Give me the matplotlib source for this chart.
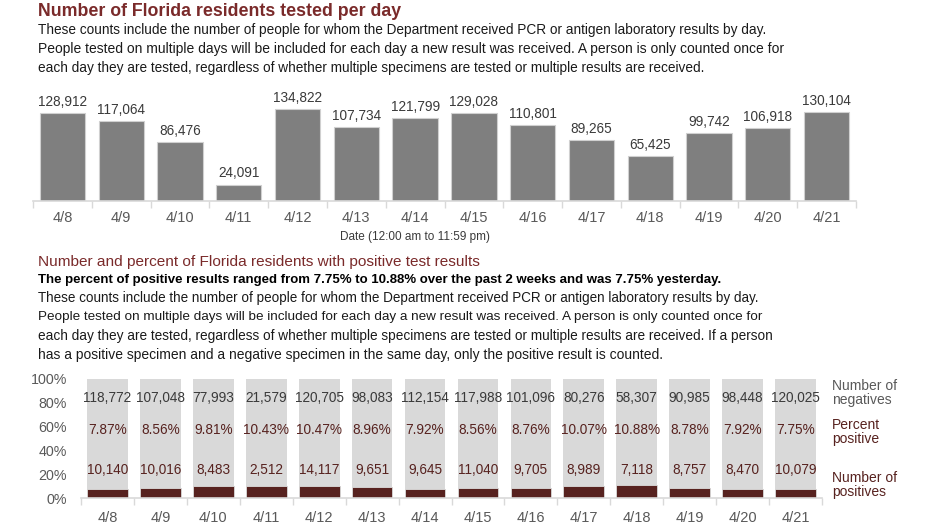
import matplotlib
matplotlib.use("Agg")
import matplotlib.pyplot as plt
import numpy as np

dates = ['4/8', '4/9', '4/10', '4/11', '4/12', '4/13', '4/14',
         '4/15', '4/16', '4/17', '4/18', '4/19', '4/20', '4/21']
tested = [128912, 117064, 86476, 24091, 134822, 107734, 121799,
          129028, 110801, 89265, 65425, 99742, 106918, 130104]
negatives = [118772, 107048, 77993, 21579, 120705, 98083, 112154,
             117988, 101096, 80276, 58307, 90985, 98448, 120025]
positives = [10140, 10016, 8483, 2512, 14117, 9651, 9645,
             11040, 9705, 8989, 7118, 8757, 8470, 10079]
pct_positive = [7.87, 8.56, 9.81, 10.43, 10.47, 8.96, 7.92,
                8.56, 8.76, 10.07, 10.88, 8.78, 7.92, 7.75]
pct_ticks = [0, 20, 40, 60, 80, 100]

title1 = "Number of Florida residents tested per day"
para1 = [
    "These counts include the number of people for whom the Department received PCR or antigen laboratory results by day.",
    "People tested on multiple days will be included for each day a new result was received. A person is only counted once for",
    "each day they are tested, regardless of whether multiple specimens are tested or multiple results are received.",
]
title2 = "Number and percent of Florida residents with positive test results"
bold2 = "The percent of positive results ranged from 7.75% to 10.88% over the past 2 weeks and was 7.75% yesterday."
para2 = [
    "These counts include the number of people for whom the Department received PCR or antigen laboratory results by day.",
    "People tested on multiple days will be included for each day a new result was received. A person is only counted once for",
    "each day they are tested, regardless of whether multiple specimens are tested or multiple results are received. If a person",
    "has a positive specimen and a negative specimen in the same day, only the positive result is counted.",
]

W, H = 932, 524
plt.rcParams['font.family'] = ['Liberation Sans', 'DejaVu Sans']
fig = plt.figure(figsize=(W / 100, H / 100), dpi=100)
fig.patch.set_facecolor('white')

DARKRED = '#7a2a2a'
BARRED = '#57221f'
TXT = '#3a3a3a'
GRAY_T = '#595959'

renderer = fig.canvas.get_renderer()


def fit_text(x_px, y_px, s, width_px, color, weight='normal'):
    t = fig.text(x_px / W, 1 - y_px / H, s, fontsize=10, color=color,
                 fontweight=weight, va='center', ha='left')
    w = t.get_window_extent(renderer).width
    t.set_fontsize(10 * width_px / w)
    return t


fit_text(38, 11, title1, 402 - 38, DARKRED, weight='bold')
for i, (line, wid) in enumerate(zip(para1, [768 - 38, 785 - 38, 707 - 38])):
    fit_text(38, 30 + 19 * i, line, wid, '#1a1a1a')

fit_text(38, 262, title2, 483 - 38, DARKRED)
fit_text(38, 280, bold2, 727 - 38, '#000000', weight='bold')
for i, (line, wid) in enumerate(zip(para2, [763 - 38, 762 - 38, 773 - 38, 664 - 38])):
    fit_text(38, 298 + 19 * i, line, wid, '#1a1a1a')

# ---- Top chart ----
x = np.arange(len(dates))
ax1 = fig.add_axes([33 / W, 1 - 201 / H, (856 - 33) / W, 116 / H])
ax1.bar(x, tested, width=0.77, color='#7f7f7f', edgecolor='#d0d0d0', linewidth=0.8)
ax1.set_xlim(-0.5, len(dates) - 0.5)
ax1.set_ylim(0, 134822 * 116 / 92)
for xi, v in zip(x, tested):
    ax1.annotate(f"{v:,}", (xi, v), xytext=(0, 3), textcoords='offset points',
                 ha='center', va='bottom', fontsize=9.8, color=TXT)
for s in ['top', 'right', 'left']:
    ax1.spines[s].set_visible(False)
ax1.spines['bottom'].set_color('#d9d9d9')
ax1.spines['bottom'].set_linewidth(1.2)
ax1.set_yticks([])
ax1.set_xticks(x)
ax1.set_xticklabels(dates, fontsize=10.5, color=GRAY_T)
ax1.tick_params(axis='x', which='major', length=0, pad=7)
ax1.set_xticks(np.arange(-0.5, len(dates)), minor=True)
ax1.tick_params(axis='x', which='minor', length=5, color='#d9d9d9', width=1)
fig.text(415 / W, 1 - 237 / H, "Date (12:00 am to 11:59 pm)", ha='center', va='center',
         fontsize=8.5, color=TXT)

# ---- Bottom chart ----
ax2 = fig.add_axes([81 / W, 1 - 498 / H, (822 - 81) / W, 119 / H])
pos_frac = [p / 100 for p in pct_positive]
neg_frac = [1 - p for p in pos_frac]
ax2.bar(x, pos_frac, width=0.77, color=BARRED, edgecolor='#d9d9d9', linewidth=0.6)
ax2.bar(x, neg_frac, bottom=pos_frac, width=0.77, color='#d9d9d9', linewidth=0)
ax2.set_xlim(-0.5, len(dates) - 0.5)
ax2.set_ylim(0, 1)
for xi, n, p, c in zip(x, negatives, pct_positive, positives):
    ax2.text(xi, 0.84, f"{n:,}", ha='center', va='center', fontsize=9.8, color=TXT)
    ax2.text(xi, 0.57, f"{p:.2f}%", ha='center', va='center', fontsize=9.8, color=BARRED)
    ax2.text(xi, 0.235, f"{c:,}", ha='center', va='center', fontsize=9.8, color=BARRED)
for s in ['top', 'right', 'left']:
    ax2.spines[s].set_visible(False)
ax2.spines['bottom'].set_color('#d9d9d9')
ax2.spines['bottom'].set_linewidth(1.2)
ax2.set_yticks([t / 100 for t in pct_ticks])
ax2.set_yticklabels([f"{t}%" for t in pct_ticks], fontsize=10.3, color=GRAY_T)
ax2.tick_params(axis='y', length=0, pad=10)
ax2.set_xticks(x)
ax2.set_xticklabels(dates, fontsize=10.5, color=GRAY_T)
ax2.tick_params(axis='x', which='major', length=0, pad=9)
ax2.set_xticks(np.arange(-0.5, len(dates)), minor=True)
ax2.tick_params(axis='x', which='minor', length=5, color='#d9d9d9', width=1)

fig.text(832 / W, 1 - 393 / H, "Number of\nnegatives", ha='left', va='center',
         fontsize=10, color=GRAY_T, linespacing=1.05)
fig.text(832 / W, 1 - 432 / H, "Percent\npositive", ha='left', va='center',
         fontsize=10, color=BARRED, linespacing=1.05)
fig.text(832 / W, 1 - 485 / H, "Number of\npositives", ha='left', va='center',
         fontsize=10, color=BARRED, linespacing=1.05)

fig.savefig('out.png', dpi=100, facecolor='white')
